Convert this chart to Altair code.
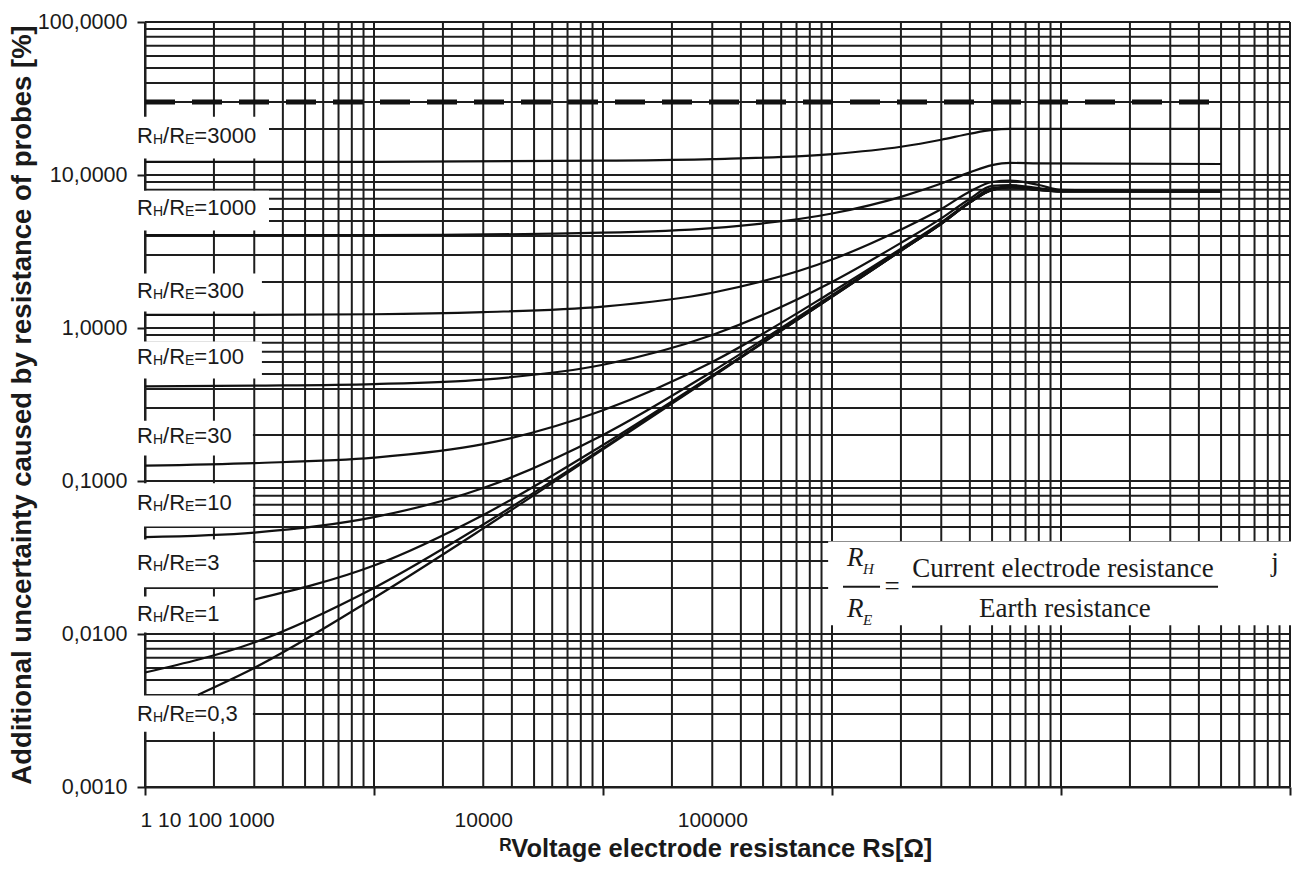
import altair as alt
import pandas as pd

# ---------------------------------------------------------------------------
# Axis ranges (both logarithmic) and grid subdivisions
# ---------------------------------------------------------------------------
x_decades = [1, 10, 100, 1000, 10000, 100000]
y_decades = [0.001, 0.01, 0.1, 1, 10, 100]
grid_steps = [1, 2, 3, 4, 5, 6, 7, 8, 9]

# Tick positions that carry the bottom labels
x_label_values = [1, 10, 30, 100, 300, 1000, 10000, 100000]

# ---------------------------------------------------------------------------
# Curves: voltage electrode resistance Rs [Ohm] -> additional uncertainty [%]
# one curve per ratio R_H / R_E
# ---------------------------------------------------------------------------
rs_main = [1, 3, 10, 30, 100, 300, 1000, 2000, 3000, 4000, 5000, 6000, 8000, 10000, 50000]
rs_big = [1, 10, 100, 300, 1000, 2000, 3000, 4000, 5000, 6000, 8000, 50000]
rs_r3 = [3, 10, 30, 100, 300, 1000, 2000, 3000, 4000, 5000, 6000, 8000, 10000, 50000]
rs_r03 = [1.7, 3, 10, 30, 100, 300, 1000, 2000, 3000, 4000, 5000, 6000, 8000, 10000, 50000]

pct_3000 = [12.2, 12.2, 12.4, 12.7, 13.7, 15.3, 17.0, 18.6, 19.7, 20.0, 20.0, 20.0]
pct_1000 = [4.05, 4.05, 4.2, 4.5, 5.6, 7.2, 8.8, 10.4, 11.6, 12.0, 11.9, 11.8]
pct_300 = [1.22, 1.22, 1.23, 1.27, 1.38, 1.7, 2.8, 4.4, 6.0, 7.8, 9.0, 9.2, 8.6, 8.0, 7.8]
pct_100 = [0.415, 0.42, 0.43, 0.46, 0.575, 0.9, 2.0, 3.6, 5.2, 7.0, 8.5, 8.6, 8.2, 7.9, 7.8]
pct_30 = [0.126, 0.131, 0.142, 0.174, 0.29, 0.6, 1.72, 3.3, 4.9, 6.7, 8.2, 8.4, 8.1, 7.9, 7.8]
pct_10 = [0.043, 0.046, 0.058, 0.09, 0.2, 0.52, 1.64, 3.25, 4.85, 6.65, 8.1, 8.35, 8.0, 7.8, 7.8]
pct_3 = [0.0168, 0.028, 0.06, 0.172, 0.49, 1.61, 3.2, 4.8, 6.6, 8.0, 8.3, 8.0, 7.8, 7.8]
pct_1 = [0.0056, 0.0088, 0.020, 0.052, 0.164, 0.484, 1.6, 3.2, 4.8, 6.6, 8.0, 8.3, 8.0, 7.8, 7.8]
pct_03 = [0.0040, 0.0060, 0.0172, 0.049, 0.161, 0.48, 1.6, 3.2, 4.8, 6.6, 8.0, 8.3, 8.0, 7.8, 7.8]

# dashed limit line
limit_pct = 30
limit_rs = [1, 50000]

# ---------------------------------------------------------------------------
# Curve labels "R_H/R_E=..." with their white backing boxes
# ---------------------------------------------------------------------------
label_values = ["3000", "1000", "300", "100", "30", "10", "3", "1", "0,3"]
label_pct = [18.1, 6.12, 1.756, 0.642, 0.198, 0.0723, 0.0293, 0.0136, 0.00302]
box_top = [24.0, 7.9, 2.27, 0.815, 0.248, 0.0965, 0.0415, 0.0176, 0.00396]
box_bottom = [12.8, 4.33, 1.28, 0.467, 0.1466, 0.0505, 0.0202, 0.01024, 0.0023]
box_right = [3.48, 3.48, 3.24, 3.24, 2.96, 2.96, 2.96, 2.96, 2.96]
label_left = 0.923
box_left = 0.904

# Definition of the ratio (formula block, lower right)
formula_box_rs = [962, 106000]
formula_box_pct = [0.0114, 0.0402]
formula_lines = ["Current electrode resistance", "Earth resistance"]
formula_lines_rs = [10200, 10400]
formula_lines_pct = [0.0237, 0.0130]
fraction_bars_rs = [[1117, 1621], [2235, 48500]]
fraction_bar_pct = 0.0204

# ---------------------------------------------------------------------------
W, H = 1145, 765
INK = "#1a1a1a"
SANS = "Liberation Sans"
SERIF = "Liberation Serif"

curves = []
for name, rs, pct in [
    ("3000", rs_big, pct_3000), ("1000", rs_big, pct_1000),
    ("300", rs_main, pct_300), ("100", rs_main, pct_100),
    ("30", rs_main, pct_30), ("10", rs_main, pct_10),
    ("3", rs_r3, pct_3), ("1", rs_main, pct_1), ("0,3", rs_r03, pct_03),
]:
    for r, p in zip(rs, pct):
        curves.append({"ratio": name, "rs": r, "pct": p})
curve_df = pd.DataFrame(curves)

x_grid = [m * d for d in x_decades[:-1] for m in grid_steps] + [x_decades[-1]]
y_grid = [m * d for d in y_decades[:-1] for m in grid_steps] + [y_decades[-1]]
vgrid_df = pd.DataFrame({"rs": x_grid, "pct": y_decades[0], "pct2": y_decades[-1]})
hgrid_df = pd.DataFrame({"pct": y_grid, "rs": x_decades[0], "rs2": x_decades[-1]})

label_df = pd.DataFrame({
    "rs": label_left, "pct": label_pct, "val": ["=" + v for v in label_values],
})
box_df = pd.DataFrame({
    "rs": box_left, "rs2": box_right, "pct": box_top, "pct2": box_bottom,
})
limit_df = pd.DataFrame({"rs": [limit_rs[0]], "rs2": [limit_rs[1]], "pct": [limit_pct]})

xscale = alt.Scale(type="log", domain=[x_decades[0], x_decades[-1]], nice=False)
yscale = alt.Scale(type="log", domain=[y_decades[0], y_decades[-1]], nice=False)

x_axis = alt.Axis(
    values=x_label_values,
    labelExpr="datum.value == 1 ? '1 10 100 1000' : datum.value == 30 ? '10000' : "
              "datum.value == 300 ? '100000' : ''",
    labelAlign={"condition": {"test": "datum.value == 1", "value": "left"}, "value": "center"},
    labelOffset={"condition": {"test": "datum.value == 1", "value": -5}, "value": 0},
    tickOpacity={"condition": {"test": "datum.value == 30 || datum.value == 300", "value": 0},
                 "value": 1},
    labelOverlap=False, labelFlush=False, labelBound=False,
    grid=False, tickSize=8, tickWidth=2, tickColor=INK,
    domainColor=INK, domainWidth=2,
    labelFont=SANS, labelFontSize=21, labelColor=INK, labelPadding=14,
    title="\u1d3fVoltage electrode resistance Rs[\u03a9]",
    titleFont=SANS, titleFontSize=25.5, titleFontWeight="bold", titleColor=INK,
    titleX=W / 2 - 2, titleY=69, titleBaseline="alphabetic", titleAlign="center",
)
y_axis = alt.Axis(
    values=y_decades,
    labelExpr="replace(format(datum.value, '.4f'), '.', ',')",
    labelOverlap=False, labelFlush=False,
    grid=False, tickSize=8, tickWidth=2, tickColor=INK,
    domainColor=INK, domainWidth=2,
    labelFont=SANS, labelFontSize=21.5, labelColor=INK, labelPadding=10,
    title="Additional uncertainty caused by resistance of probes [%]",
    titleFont=SANS, titleFontSize=27.5, titleFontWeight="bold", titleColor=INK,
    titleX=-115, titleY=H / 2, titleAngle=270, titleBaseline="alphabetic",
    titleAlign="center",
)


def X(field="rs"):
    return alt.X(f"{field}:Q", scale=xscale, axis=x_axis)


def Y(field="pct"):
    return alt.Y(f"{field}:Q", scale=yscale, axis=y_axis)


vgrid = alt.Chart(vgrid_df).mark_rule(color="#1e1e1e", strokeWidth=2).encode(
    x=X(), y=Y(), y2="pct2:Q")
hgrid = alt.Chart(hgrid_df).mark_rule(color="#1e1e1e", strokeWidth=2).encode(
    y=Y(), x=X(), x2="rs2:Q")

boxes = alt.Chart(box_df).mark_rect(color="white").encode(
    x=X(), x2="rs2:Q", y=Y(), y2="pct2:Q")

limit = alt.Chart(limit_df).mark_rule(
    color="#111", strokeWidth=5, strokeDash=[30, 17]).encode(
    x=X(), x2="rs2:Q", y=Y())

lines = alt.Chart(curve_df).mark_line(
    color="#111", strokeWidth=2.2, interpolate="monotone").encode(
    x=X(), y=Y(), detail="ratio:N")

# label pieces: R, subscript H, /R, subscript E, =value
FS, SS = 22, 14
w_R, w_slash = 0.722 * FS, 0.278 * FS
w_Hs, w_Es = 0.722 * SS, 0.667 * SS
pieces = [
    ("R", 0, 0, FS),
    ("H", w_R, 4, SS),
    ("/R", w_R + w_Hs, 0, FS),
    ("E", w_R + w_Hs + w_slash + w_R, 4, SS),
]
label_layers = []
for txt, dx, dy, size in pieces:
    label_layers.append(
        alt.Chart(label_df).mark_text(
            text=txt, align="left", baseline="middle", dx=dx, dy=dy,
            font=SANS, fontSize=size, color=INK,
        ).encode(x=X(), y=Y())
    )
label_layers.append(
    alt.Chart(label_df).mark_text(
        align="left", baseline="middle", dx=w_R + w_Hs + w_slash + w_R + w_Es,
        font=SANS, fontSize=FS, color=INK,
    ).encode(x=X(), y=Y(), text="val:N")
)

# formula block
fbox_df = pd.DataFrame({"rs": [formula_box_rs[0]], "rs2": [formula_box_rs[1]],
                        "pct": [formula_box_pct[0]], "pct2": [formula_box_pct[1]]})
fbox = alt.Chart(fbox_df).mark_rect(color="white").encode(
    x=X(), x2="rs2:Q", y=Y(), y2="pct2:Q")
bars_df = pd.DataFrame({"rs": [b[0] for b in fraction_bars_rs],
                        "rs2": [b[1] for b in fraction_bars_rs],
                        "pct": fraction_bar_pct})
fbars = alt.Chart(bars_df).mark_rule(color=INK, strokeWidth=2).encode(
    x=X(), x2="rs2:Q", y=Y())
flines_df = pd.DataFrame({"rs": formula_lines_rs, "pct": formula_lines_pct,
                          "txt": formula_lines})
flines = alt.Chart(flines_df).mark_text(
    align="center", baseline="alphabetic", font=SERIF, fontSize=27, color=INK
).encode(x=X(), y=Y(), text="txt:N")

ratio_df = pd.DataFrame({"rs": [1164, 1164], "pct": [0.0280, 0.0130], "sub": ["H", "E"]})
ratio_R = alt.Chart(ratio_df).mark_text(
    text="R", align="left", baseline="alphabetic", font=SERIF, fontSize=27,
    fontStyle="italic", color=INK).encode(x=X(), y=Y())
ratio_sub = alt.Chart(ratio_df).mark_text(
    align="left", baseline="alphabetic", dx=16, dy=8, font=SERIF, fontSize=15,
    fontStyle="italic", color=INK).encode(x=X(), y=Y(), text="sub:N")
eq_df = pd.DataFrame({"rs": [1828, 86000], "pct": [fraction_bar_pct, 0.0259],
                      "txt": ["=", "j"]})
eq = alt.Chart(eq_df.iloc[[0]]).mark_text(
    align="center", baseline="middle", font=SERIF, fontSize=27, color=INK
).encode(x=X(), y=Y(), text="txt:N")
jmark = alt.Chart(eq_df.iloc[[1]]).mark_text(
    align="center", baseline="alphabetic", font=SERIF, fontSize=27, color=INK
).encode(x=X(), y=Y(), text="txt:N")

chart = alt.layer(
    vgrid, hgrid, limit, boxes, fbox, lines, *label_layers,
    fbars, flines, ratio_R, ratio_sub, eq, jmark,
).properties(
    width=W, height=H,
    autosize=alt.AutoSizeParams(type="none"),
    padding={"left": 145, "top": 22, "right": 6, "bottom": 84},
    background="white",
).configure_view(stroke=None)

chart.save("out.html", embed_options={"renderer": "svg", "actions": False})
